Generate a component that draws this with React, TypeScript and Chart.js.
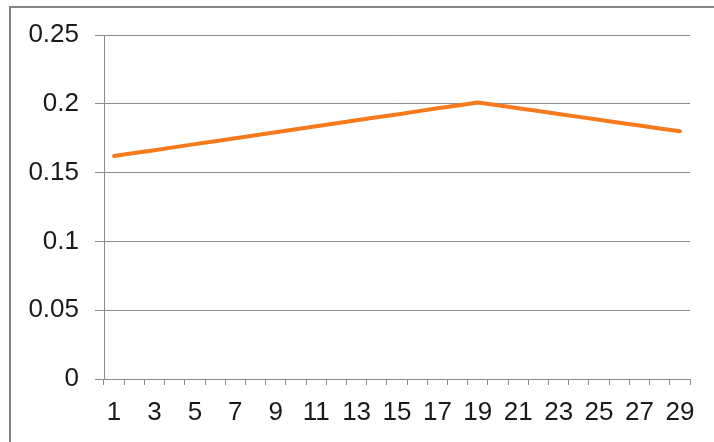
import React, { useEffect, useRef } from "react";
import { Chart, registerables } from "chart.js";

Chart.register(...registerables);

const categories: string[] = [
  "1", "2", "3", "4", "5", "6", "7", "8", "9", "10",
  "11", "12", "13", "14", "15", "16", "17", "18", "19", "20",
  "21", "22", "23", "24", "25", "26", "27", "28", "29",
];

const seriesValues: number[] = [
  0.162, 0.1642, 0.1663, 0.1685, 0.1707, 0.1728, 0.175, 0.1772, 0.1793, 0.1815,
  0.1837, 0.1858, 0.188, 0.1902, 0.1923, 0.1945, 0.1967, 0.1988, 0.201, 0.1989,
  0.1968, 0.1947, 0.1926, 0.1905, 0.1884, 0.1863, 0.1842, 0.1821, 0.18,
];

const yTickLabels: string[] = ["0", "0.05", "0.1", "0.15", "0.2", "0.25"];

const FONT = "'Liberation Sans', Arial, sans-serif";

export default function App() {
  const canvasRef = useRef<HTMLCanvasElement | null>(null);

  useEffect(() => {
    if (!canvasRef.current) return;
    const chart = new Chart(canvasRef.current, {
      type: "line",
      data: {
        labels: categories,
        datasets: [
          {
            data: seriesValues,
            borderColor: "#F57A1C",
            borderWidth: 4,
            borderCapStyle: "round",
            borderJoinStyle: "round",
            pointRadius: 0,
            tension: 0,
            fill: false,
          },
        ],
      },
      options: {
        animation: false,
        responsive: false,
        maintainAspectRatio: false,
        layout: { padding: { left: 0, right: 24, top: 35, bottom: 0 } },
        plugins: { legend: { display: false }, tooltip: { enabled: false } },
        scales: {
          x: {
            type: "category",
            offset: true,
            grid: {
              offset: true,
              drawOnChartArea: false,
              drawTicks: true,
              tickLength: 6,
              color: "#8c8c8c",
            },
            border: { display: true, color: "#8c8c8c", width: 1 },
            ticks: {
              autoSkip: false,
              maxRotation: 0,
              minRotation: 0,
              padding: 12,
              color: "#1a1a1a",
              font: { family: FONT, size: 26 },
              callback: (_v: any, i: number) => (i % 2 === 0 ? categories[i] : ""),
            },
            afterFit: (s: any) => {
              s.height = 63;
            },
          },
          y: {
            min: 0,
            max: 0.25,
            grid: {
              color: "#8c8c8c",
              drawTicks: true,
              tickLength: 9,
            },
            border: { display: true, color: "#8c8c8c", width: 1 },
            ticks: {
              stepSize: 0.05,
              padding: 16,
              color: "#1a1a1a",
              font: { family: FONT, size: 26 },
              callback: (v: any) => {
                const idx = Math.round(Number(v) / 0.05);
                return yTickLabels[idx] ?? "";
              },
            },
            afterFit: (s: any) => {
              s.width = 104;
            },
          },
        },
      },
    });
    return () => chart.destroy();
  }, []);

  return (
    <div
      style={{
        position: "fixed",
        left: 0,
        top: 0,
        width: 714,
        height: 442,
        background: "#ffffff",
        overflow: "hidden",
      }}
    >
      <div
        style={{
          position: "absolute",
          left: 9,
          top: 6,
          width: 720,
          height: 450,
          borderTop: "2px solid #858585",
          borderLeft: "2px solid #858585",
          boxSizing: "border-box",
        }}
      />
      <canvas
        ref={canvasRef}
        width={714}
        height={442}
        style={{ position: "absolute", left: 0, top: 0, width: 714, height: 442 }}
      />
    </div>
  );
}
